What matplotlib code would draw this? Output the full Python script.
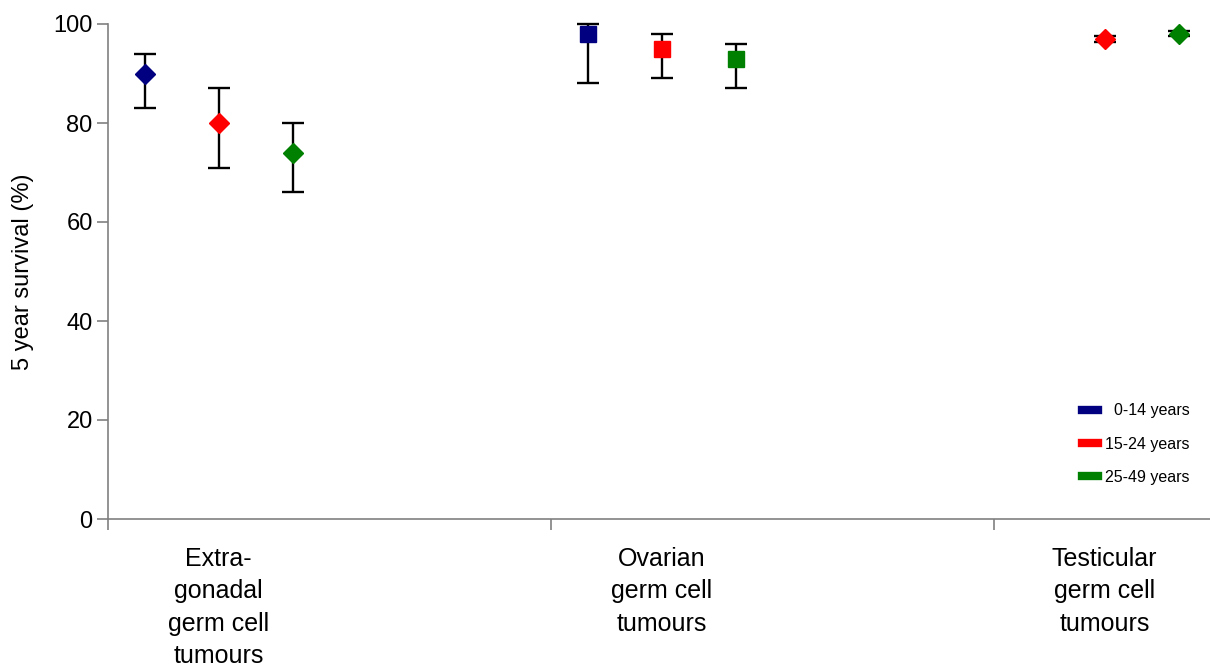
import numpy as np
from matplotlib import pyplot as plt
from matplotlib.lines import Line2D

plt.rcParams['font.family'] = ['Liberation Sans', 'DejaVu Sans']

categories = ["Extra-\ngonadal\ngerm cell\ntumours",
              "Ovarian\ngerm cell\ntumours",
              "Testicular\ngerm cell\ntumours"]
category_markers = ['D', 's', 'D']

age_groups = ["  0-14 years", "15-24 years", "25-49 years"]
colors = ['#000080', '#ff0000', '#008000']

# 5 year survival (%) with lower / upper confidence limits, per category
surv_0_14 = [90, 98, np.nan]
low_0_14 = [83, 88, np.nan]
up_0_14 = [94, 100, np.nan]

surv_15_24 = [80, 95, 97]
low_15_24 = [71, 89, 96.4]
up_15_24 = [87, 98, 97.6]

surv_25_49 = [74, 93, 98]
low_25_49 = [66, 87, 97.5]
up_25_49 = [80, 96, 98.5]

survival = [surv_0_14, surv_15_24, surv_25_49]
lower = [low_0_14, low_15_24, low_25_49]
upper = [up_0_14, up_15_24, up_25_49]
offsets = [-5 / 12, -3 / 12, -1 / 12]


def main():
    fig = plt.figure(figsize=(12.1, 6.69), dpi=100)
    ax = fig.add_axes([108 / 1210, 150 / 669, 1 - 108 / 1210, 495 / 669])

    for g in range(len(age_groups)):
        for i in range(len(categories)):
            y = survival[g][i]
            if np.isnan(y):
                continue
            x = i + offsets[g]
            eb = ax.errorbar(x, y, yerr=[[y - lower[g][i]], [upper[g][i] - y]],
                             fmt='none', ecolor='black', elinewidth=1.7,
                             capsize=8, capthick=1.7, zorder=2)
            for art in eb.lines[1] + eb.lines[2]:
                art.set_clip_on(False)
            ms = 11.5 if category_markers[i] == 's' else 10.5
            ax.plot(x, y, marker=category_markers[i], color=colors[g],
                    markersize=ms, linestyle='none', zorder=3, clip_on=False)

    ax.set_ylim(0, 100)
    ax.set_xlim(-0.5, (1210 - 108) / 443 - 0.5)
    ax.set_yticks(np.arange(0, 101, 20))
    ax.set_ylabel("5 year survival (%)", fontsize=17, labelpad=14)

    # separators between categories as major ticks, labels as minor ticks
    ax.set_xticks([-0.5, 0.5, 1.5])
    ax.set_xticklabels([])
    ax.set_xticks([i - 0.25 for i in range(len(categories))], minor=True)
    ax.set_xticklabels(categories, minor=True, fontsize=18, linespacing=1.45,
                       va='top')
    ax.tick_params(axis='x', which='minor', length=0, pad=20)
    ax.tick_params(axis='x', which='major', length=8, direction='out',
                   color='#808080', width=1.2)
    ax.tick_params(axis='y', length=8, direction='out', color='#808080',
                   width=1.2, labelsize=17, pad=3)

    for side in ['top', 'right']:
        ax.spines[side].set_visible(False)
    for side in ['left', 'bottom']:
        ax.spines[side].set_color('#808080')
        ax.spines[side].set_linewidth(1.2)

    handles = [Line2D([0], [0], color=c, lw=6) for c in colors]
    ax.legend(handles, age_groups, frameon=False, fontsize=11.5,
              handlelength=1.0, labelspacing=1.15, handletextpad=0.45,
              loc='upper left', bbox_to_anchor=(0.871, 0.263),
              bbox_transform=ax.transAxes)

    fig.savefig('out.png', dpi=100)


if __name__ == '__main__':
    main()
